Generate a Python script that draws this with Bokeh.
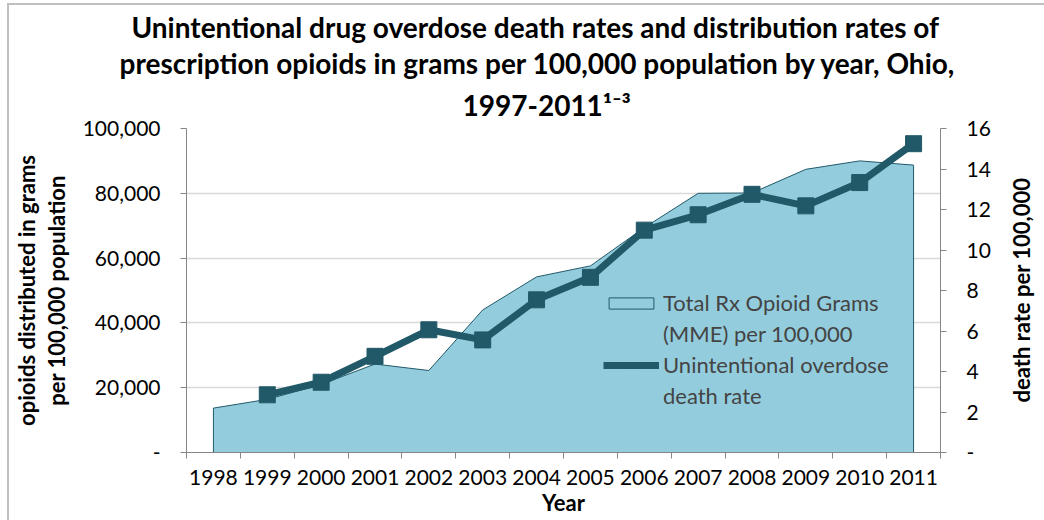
import math
from bokeh.plotting import figure
from bokeh.models import (Range1d, LinearAxis, FixedTicker, Legend, LegendItem,
                          Title, NumeralTickFormatter)
from bokeh.embed import file_html
from bokeh.resources import INLINE

# ---- data ----
years_rx = [1998, 1999, 2000, 2001, 2002, 2003, 2004, 2005, 2006, 2007, 2008, 2009, 2010, 2011]
rx_grams = [13700, 16400, 21000, 27300, 25300, 44000, 54200, 57600, 69400, 80000, 80100, 87400, 90000, 88700]
years_death = [1999, 2000, 2001, 2002, 2003, 2004, 2005, 2006, 2007, 2008, 2009, 2010, 2011]
death_rate = [2.85, 3.47, 4.75, 6.06, 5.56, 7.54, 8.65, 10.98, 11.74, 12.75, 12.18, 13.33, 15.25]
left_ticks = [0, 20000, 40000, 60000, 80000, 100000]
right_ticks = [0, 2, 4, 6, 8, 10, 12, 14, 16]

title_lines = ["Unintentional drug overdose death rates and distribution rates of",
               "prescription opioids in grams per 100,000 population by year, Ohio,",
               "1997-2011\u00b9\u207b\u00b3"]
label_rx = ["Total Rx Opioid Grams", "(MME) per 100,000"]
label_death = ["Unintentional overdose", "death rate"]
left_label = "opioids distributed in grams\nper 100,000 population"
right_label = "death rate per 100,000"
x_label = "Year"

FONT = "Lato"
AREA_FILL = "#93CDDD"
DARK = "#215968"
AXIS_C = "#868686"

# ---- layout (pixels) ----
FRAME_W, FRAME_H = 754, 324
SX0 = 186                      # page x of the frame's left edge
x_lo, x_hi = years_rx[0] - 0.5, years_rx[-1] + 0.5
R_MAX = 16

p = figure(frame_width=FRAME_W, frame_height=FRAME_H, output_backend="svg",
           toolbar_location=None, title=title_lines[0],
           x_range=Range1d(x_lo, x_hi), y_range=Range1d(0, 100000),
           min_border_left=177, min_border_right=60, min_border_top=123, min_border_bottom=68)
p.styles = {"margin-left": "7px", "margin-top": "3px",
            "border-left": "2px solid #BFBFBF", "border-top": "2px solid #BFBFBF"}
p.extra_y_ranges = {"death": Range1d(0, R_MAX)}

# ---- title rows ----
TS = "28px"
p.title.text_font = FONT
p.title.text_font_size = TS
p.title.text_font_style = "bold"
p.title.text_color = "black"
p.title.align = "left"
p.title.offset = 131 - SX0
p.title.standoff = 0
for txt, left, so in [(title_lines[2], 462, 13), (title_lines[1], 119, 0)]:
    p.add_layout(Title(text=txt, text_font=FONT, text_font_size=TS, text_font_style="bold",
                       text_color="black", align="left", offset=left - SX0, standoff=so), "above")

# ---- area ----
xs = [years_rx[0]] + years_rx + [years_rx[-1]]
ys = [0] + rx_grams + [0]
area = p.patch(xs, ys, fill_color=AREA_FILL, line_color=DARK, line_width=1)

# ---- line ----
ln = p.line(years_death, death_rate, y_range_name="death", line_color=DARK, line_width=7)
mk = p.scatter(years_death, death_rate, y_range_name="death", marker="square", size=16,
               fill_color=DARK, line_color=DARK)
blank = p.scatter([], [], fill_alpha=0, line_alpha=0)

# ---- axes ----
p.xaxis.ticker = FixedTicker(ticks=years_rx, minor_ticks=[y - 0.5 for y in years_rx] + [x_hi])
p.xaxis.major_tick_line_color = None
p.xaxis.major_tick_out = 0
p.xaxis.minor_tick_out = 6
p.xaxis.minor_tick_in = 0
p.xaxis.minor_tick_line_color = AXIS_C
p.xaxis.axis_line_color = AXIS_C
p.xaxis.major_label_standoff = 11
p.xaxis.axis_label = x_label
p.xaxis.axis_label_standoff = 1

p.yaxis.ticker = FixedTicker(ticks=left_ticks)
p.yaxis.formatter = NumeralTickFormatter(format="0,0")
p.yaxis.major_label_overrides = {0: "-"}
p.yaxis.axis_label = left_label
p.yaxis.major_label_standoff = 20
p.yaxis.axis_label_standoff = 10

ry = LinearAxis(y_range_name="death", ticker=FixedTicker(ticks=right_ticks),
                major_label_overrides={0: "-"})
ry.major_label_standoff = 20
p.add_layout(ry, "right")

# right-hand title, reading bottom-to-top, carried by a bare axis
start_val = (452 - 402) / FRAME_H * R_MAX
ry2 = LinearAxis(y_range_name="death", ticker=FixedTicker(ticks=[start_val]),
                 major_label_overrides={start_val: right_label},
                 major_label_orientation=math.pi / 2,
                 axis_line_color=None, major_tick_line_color=None, minor_tick_line_color=None,
                 major_label_standoff=22)
ry2.major_label_text_font = FONT
ry2.major_label_text_font_size = "22px"
ry2.major_label_text_font_style = "bold"
ry2.major_label_text_color = "black"
p.add_layout(ry2, "right")

for ax in [p.yaxis[0], ry]:
    ax.axis_line_color = AXIS_C
    ax.major_tick_line_color = AXIS_C
    ax.major_tick_out = 6
    ax.major_tick_in = 0
    ax.minor_tick_line_color = None
for ax in [p.xaxis[0], p.yaxis[0], ry]:
    ax.major_label_text_font = FONT
    ax.major_label_text_font_size = "21px"
    ax.major_label_text_color = "black"
    ax.axis_label_text_font = FONT
    ax.axis_label_text_font_size = "22px"
    ax.axis_label_text_font_style = "bold"
    ax.axis_label_text_color = "black"
p.yaxis.axis_label_text_line_height = 1.1

p.xgrid.visible = False
p.ygrid.ticker = FixedTicker(ticks=left_ticks)
p.ygrid.grid_line_color = "#D9D9D9"
p.ygrid.grid_line_width = 1.5
p.outline_line_color = None

legend = Legend(items=[LegendItem(label=label_rx[0], renderers=[area]),
                       LegendItem(label=label_rx[1], renderers=[blank]),
                       LegendItem(label=label_death[0], renderers=[ln, mk]),
                       LegendItem(label=label_death[1], renderers=[blank])],
                location=(417, 43), background_fill_alpha=0, border_line_color=None,
                label_text_font=FONT, label_text_font_size="22px",
                label_height=25, glyph_width=56, glyph_height=14, label_standoff=4, spacing=4)
p.add_layout(legend, "center")

open("out.html", "w").write(file_html(p, INLINE))
